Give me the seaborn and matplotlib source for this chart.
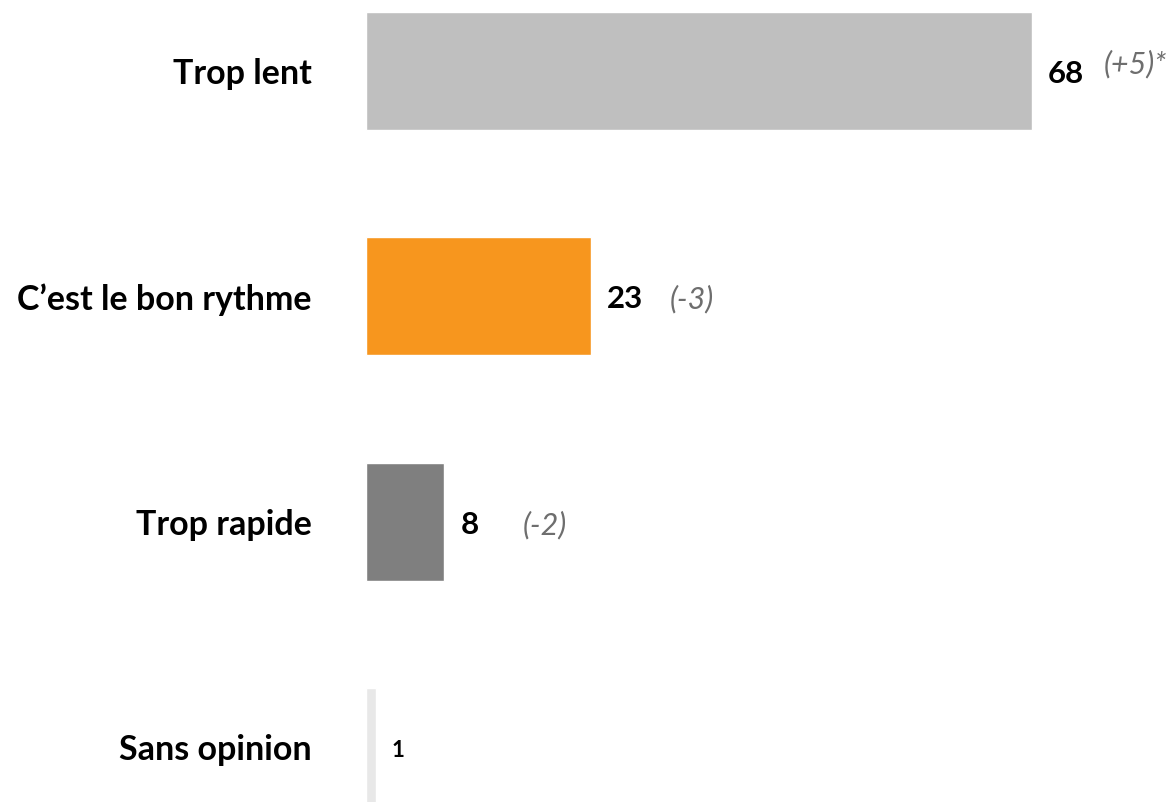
import matplotlib
matplotlib.use("Agg")
import matplotlib.pyplot as plt
import seaborn as sns
import pandas as pd

# data
categories = ["Trop lent", "C\u2019est le bon rythme", "Trop rapide", "Sans opinion"]
values = [68, 23, 8, 1]
changes = ["(+5)*", "(-3)", "(-2)", ""]
colors = ["#BFBFBF", "#F7961E", "#7F7F7F", "#E8E8E8"]

df = pd.DataFrame({"cat": categories, "val": values})

sns.set_theme(style="white")
plt.rcParams["font.family"] = ["Lato", "DejaVu Sans"]

fig = plt.figure(figsize=(11.74, 8.02), dpi=100)
ax = fig.add_axes([366 / 1174, 0, 808 / 1174, 1])

sns.barplot(data=df, x="val", y="cat", hue="cat", palette=colors,
            legend=False, orient="h", width=0.524, saturation=1, ax=ax)

ax.set_xlim(0, 82.5)
ax.set_ylim(3.244, -0.315)
ax.set_xlabel("")
ax.set_ylabel("")
ax.set_xticks([])
sns.despine(ax=ax, left=True, bottom=True)
ax.tick_params(axis="y", length=0, pad=39)
for lab in ax.get_yticklabels():
    lab.set_fontsize(24.5)
    lab.set_fontweight("bold")
    lab.set_color("black")

for i, (v, c) in enumerate(zip(values, changes)):
    size = 22.5 if v > 1 else 16
    ax.annotate(str(v), xy=(v, i), xytext=(16, -3), textcoords="offset pixels",
                ha="left", va="center", fontsize=size, fontweight="bold",
                color="black")
    if c:
        dy = 7 if c.endswith("*") else -3
        dx = 72 if c.endswith("*") else 78
        ax.annotate(c, xy=(v, i), xytext=(dx, dy), textcoords="offset pixels",
                    ha="left", va="center", fontsize=22, fontstyle="italic",
                    color="#6E6E6E")

fig.savefig("out.png", dpi=100)
